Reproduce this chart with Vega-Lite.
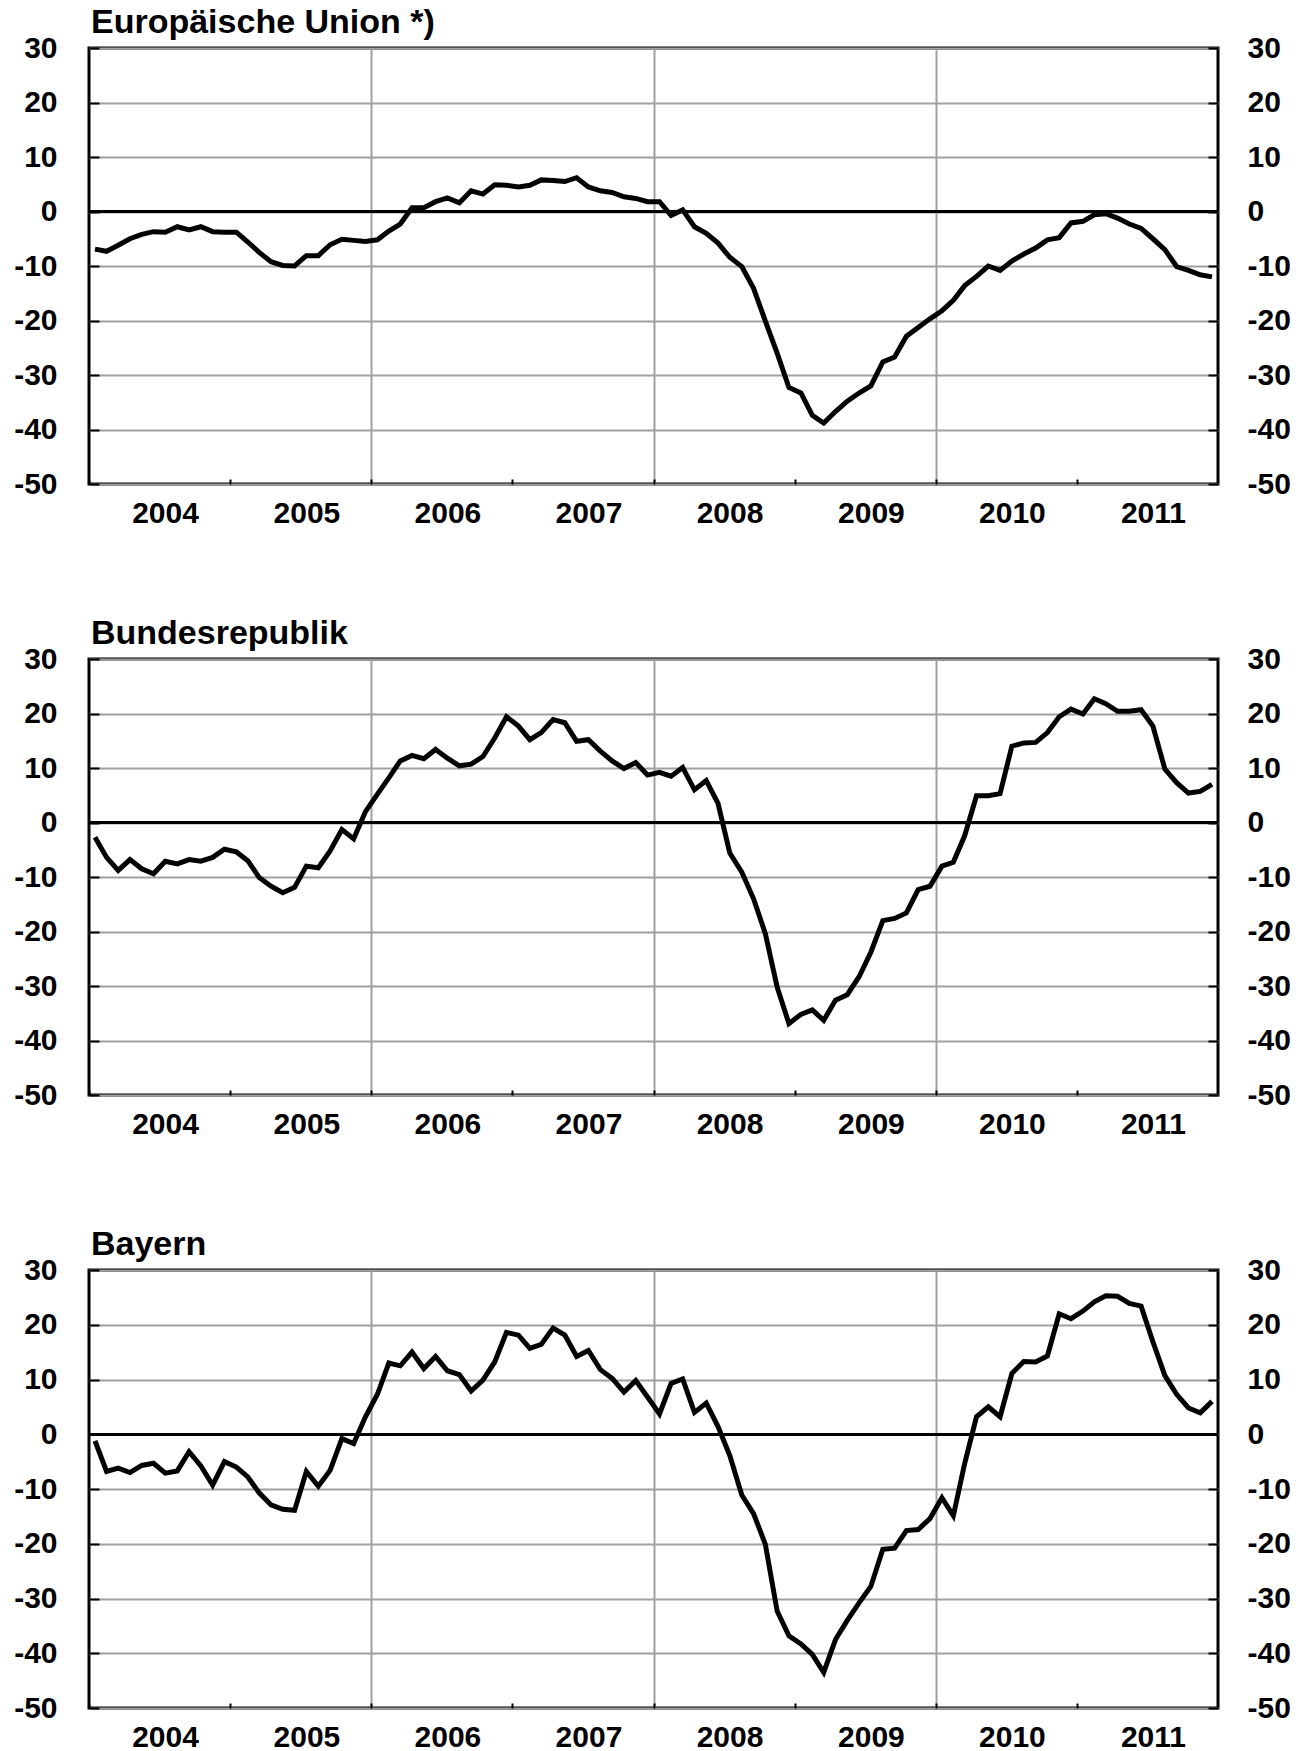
{
  "$schema": "https://vega.github.io/schema/vega-lite/v6.json",
  "background": "white",
  "padding": {"left": 12, "top": 4, "right": 5, "bottom": 0},
  "config": {
    "font": "Liberation Sans",
    "view": {"stroke": "black", "strokeWidth": 3},
    "axis": {"labelFont": "Liberation Sans", "labelFontSize": 30, "labelFontWeight": "bold", "labelColor": "black", "title": null, "domain": false},
    "title": {"font": "Liberation Sans"}
  },
  "datasets": {
    "ifo": [
      {"month": "2004-01", "eu": -6.9, "de": -2.7, "by": -1.2},
      {"month": "2004-02", "eu": -7.3, "de": -6.4, "by": -6.8},
      {"month": "2004-03", "eu": -6.2, "de": -8.8, "by": -6.2},
      {"month": "2004-04", "eu": -5.0, "de": -6.8, "by": -7.0},
      {"month": "2004-05", "eu": -4.2, "de": -8.5, "by": -5.7},
      {"month": "2004-06", "eu": -3.7, "de": -9.4, "by": -5.3},
      {"month": "2004-07", "eu": -3.8, "de": -7.1, "by": -7.1},
      {"month": "2004-08", "eu": -2.8, "de": -7.6, "by": -6.7},
      {"month": "2004-09", "eu": -3.4, "de": -6.8, "by": -3.2},
      {"month": "2004-10", "eu": -2.8, "de": -7.1, "by": -5.8},
      {"month": "2004-11", "eu": -3.7, "de": -6.4, "by": -9.3},
      {"month": "2004-12", "eu": -3.8, "de": -4.9, "by": -5.0},
      {"month": "2005-01", "eu": -3.8, "de": -5.4, "by": -6.0},
      {"month": "2005-02", "eu": -5.6, "de": -7.0, "by": -7.8},
      {"month": "2005-03", "eu": -7.5, "de": -10.1, "by": -10.7},
      {"month": "2005-04", "eu": -9.2, "de": -11.7, "by": -12.9},
      {"month": "2005-05", "eu": -9.9, "de": -12.9, "by": -13.7},
      {"month": "2005-06", "eu": -10.0, "de": -11.9, "by": -13.9},
      {"month": "2005-07", "eu": -8.1, "de": -8.0, "by": -6.8},
      {"month": "2005-08", "eu": -8.1, "de": -8.3, "by": -9.5},
      {"month": "2005-09", "eu": -6.1, "de": -5.2, "by": -6.6},
      {"month": "2005-10", "eu": -5.1, "de": -1.3, "by": -0.8},
      {"month": "2005-11", "eu": -5.3, "de": -3.0, "by": -1.7},
      {"month": "2005-12", "eu": -5.5, "de": 2.0, "by": 3.2},
      {"month": "2006-01", "eu": -5.2, "de": 5.2, "by": 7.3},
      {"month": "2006-02", "eu": -3.6, "de": 8.2, "by": 13.0},
      {"month": "2006-03", "eu": -2.3, "de": 11.3, "by": 12.5},
      {"month": "2006-04", "eu": 0.7, "de": 12.3, "by": 15.0},
      {"month": "2006-05", "eu": 0.7, "de": 11.7, "by": 12.0},
      {"month": "2006-06", "eu": 1.8, "de": 13.4, "by": 14.2},
      {"month": "2006-07", "eu": 2.5, "de": 11.8, "by": 11.6},
      {"month": "2006-08", "eu": 1.6, "de": 10.4, "by": 10.9},
      {"month": "2006-09", "eu": 3.8, "de": 10.7, "by": 7.9},
      {"month": "2006-10", "eu": 3.2, "de": 12.1, "by": 9.9},
      {"month": "2006-11", "eu": 4.9, "de": 15.5, "by": 13.2},
      {"month": "2006-12", "eu": 4.8, "de": 19.4, "by": 18.6},
      {"month": "2007-01", "eu": 4.5, "de": 17.7, "by": 18.1},
      {"month": "2007-02", "eu": 4.8, "de": 15.2, "by": 15.7},
      {"month": "2007-03", "eu": 5.8, "de": 16.5, "by": 16.4},
      {"month": "2007-04", "eu": 5.7, "de": 18.9, "by": 19.4},
      {"month": "2007-05", "eu": 5.5, "de": 18.3, "by": 18.1},
      {"month": "2007-06", "eu": 6.2, "de": 14.9, "by": 14.2},
      {"month": "2007-07", "eu": 4.5, "de": 15.2, "by": 15.3},
      {"month": "2007-08", "eu": 3.8, "de": 13.1, "by": 11.8},
      {"month": "2007-09", "eu": 3.5, "de": 11.3, "by": 10.2},
      {"month": "2007-10", "eu": 2.7, "de": 9.9, "by": 7.7},
      {"month": "2007-11", "eu": 2.4, "de": 11.0, "by": 9.8},
      {"month": "2007-12", "eu": 1.8, "de": 8.7, "by": 6.8},
      {"month": "2008-01", "eu": 1.8, "de": 9.2, "by": 3.7},
      {"month": "2008-02", "eu": -0.7, "de": 8.5, "by": 9.3},
      {"month": "2008-03", "eu": 0.3, "de": 10.1, "by": 10.1},
      {"month": "2008-04", "eu": -2.8, "de": 6.0, "by": 4.0},
      {"month": "2008-05", "eu": -4.0, "de": 7.7, "by": 5.7},
      {"month": "2008-06", "eu": -5.8, "de": 3.5, "by": 1.4},
      {"month": "2008-07", "eu": -8.4, "de": -5.6, "by": -3.9},
      {"month": "2008-08", "eu": -10.1, "de": -9.1, "by": -11.1},
      {"month": "2008-09", "eu": -14.1, "de": -14.0, "by": -14.5},
      {"month": "2008-10", "eu": -20.1, "de": -20.4, "by": -20.1},
      {"month": "2008-11", "eu": -26.0, "de": -30.2, "by": -32.3},
      {"month": "2008-12", "eu": -32.3, "de": -36.9, "by": -36.8},
      {"month": "2009-01", "eu": -33.3, "de": -35.2, "by": -38.3},
      {"month": "2009-02", "eu": -37.4, "de": -34.4, "by": -40.2},
      {"month": "2009-03", "eu": -38.8, "de": -36.3, "by": -43.5},
      {"month": "2009-04", "eu": -36.7, "de": -32.6, "by": -37.5},
      {"month": "2009-05", "eu": -34.8, "de": -31.6, "by": -34.0},
      {"month": "2009-06", "eu": -33.3, "de": -28.3, "by": -30.8},
      {"month": "2009-07", "eu": -32.0, "de": -23.8, "by": -27.8},
      {"month": "2009-08", "eu": -27.6, "de": -18.0, "by": -21.0},
      {"month": "2009-09", "eu": -26.7, "de": -17.6, "by": -20.8},
      {"month": "2009-10", "eu": -22.9, "de": -16.6, "by": -17.6},
      {"month": "2009-11", "eu": -21.3, "de": -12.3, "by": -17.4},
      {"month": "2009-12", "eu": -19.7, "de": -11.7, "by": -15.4},
      {"month": "2010-01", "eu": -18.2, "de": -8.0, "by": -11.6},
      {"month": "2010-02", "eu": -16.3, "de": -7.3, "by": -14.9},
      {"month": "2010-03", "eu": -13.6, "de": -2.4, "by": -5.3},
      {"month": "2010-04", "eu": -11.9, "de": 4.9, "by": 3.2},
      {"month": "2010-05", "eu": -10.0, "de": 4.9, "by": 5.0},
      {"month": "2010-06", "eu": -10.8, "de": 5.3, "by": 3.2},
      {"month": "2010-07", "eu": -9.1, "de": 14.0, "by": 11.1},
      {"month": "2010-08", "eu": -7.8, "de": 14.6, "by": 13.3},
      {"month": "2010-09", "eu": -6.7, "de": 14.7, "by": 13.2},
      {"month": "2010-10", "eu": -5.2, "de": 16.5, "by": 14.3},
      {"month": "2010-11", "eu": -4.8, "de": 19.4, "by": 22.0},
      {"month": "2010-12", "eu": -2.1, "de": 20.8, "by": 21.1},
      {"month": "2011-01", "eu": -1.8, "de": 19.9, "by": 22.5},
      {"month": "2011-02", "eu": -0.6, "de": 22.7, "by": 24.2},
      {"month": "2011-03", "eu": -0.4, "de": 21.8, "by": 25.3},
      {"month": "2011-04", "eu": -1.2, "de": 20.4, "by": 25.2},
      {"month": "2011-05", "eu": -2.3, "de": 20.4, "by": 23.9},
      {"month": "2011-06", "eu": -3.1, "de": 20.7, "by": 23.4},
      {"month": "2011-07", "eu": -5.0, "de": 17.7, "by": 16.9},
      {"month": "2011-08", "eu": -7.0, "de": 9.8, "by": 10.7},
      {"month": "2011-09", "eu": -10.1, "de": 7.3, "by": 7.3},
      {"month": "2011-10", "eu": -10.8, "de": 5.4, "by": 4.8},
      {"month": "2011-11", "eu": -11.6, "de": 5.7, "by": 3.9},
      {"month": "2011-12", "eu": -12.0, "de": 7.0, "by": 6.0}
    ]
  },
  "bounds": "flush",
  "spacing": 175,
  "vconcat": [
    {
      "title": {"text": "Europäische Union *)", "anchor": "start", "frame": "group", "dx": 2, "fontSize": 34, "fontWeight": "bold", "color": "black", "baseline": "alphabetic", "offset": -34},
      "width": 1129, "height": 436,
      "data": {"name": "ifo"},
      "layer": [
        {
          "mark": {"type": "line", "color": "black", "strokeWidth": 5},
          "encoding": {
            "x": {"field": "month", "type": "temporal", "timeUnit": "utcyearmonth", "bandPosition": 0.5,
              "scale": {"type": "utc", "domain": [{"year": 2004, "month": 1, "date": 1, "utc": true}, {"year": 2012, "month": 1, "date": 1, "utc": true}]},
              "axis": {"orient": "bottom", "values": [{"year": 2004, "month": 1, "date": 1, "utc": true}, {"year": 2005, "month": 1, "date": 1, "utc": true}, {"year": 2006, "month": 1, "date": 1, "utc": true}, {"year": 2007, "month": 1, "date": 1, "utc": true}, {"year": 2008, "month": 1, "date": 1, "utc": true}, {"year": 2009, "month": 1, "date": 1, "utc": true}, {"year": 2010, "month": 1, "date": 1, "utc": true}, {"year": 2011, "month": 1, "date": 1, "utc": true}],
                "format": "%Y", "labelOffset": 76, "labelPadding": 19, "labelAngle": 0, "labelOverlap": false, "labelFlush": false, "labelBound": false,
                "tickSize": -5, "tickWidth": 2, "tickColor": "black",
                "grid": true, "gridColor": "#a0a0a0", "gridWidth": 2,
                "gridOpacity": {"condition": {"test": "utcyear(datum.value) % 2 === 0 && utcyear(datum.value) > 2004", "value": 1}, "value": 0}}
            },
            "y": {"field": "eu", "type": "quantitative", "scale": {"domain": [-50, 30], "nice": false, "zero": false},
              "axis": {"orient": "left", "values": [-50, -40, -30, -20, -10, 0, 10, 20, 30], "labelExpr": "'' + datum.value", "labelPadding": 42, "tickSize": -10, "tickWidth": 2, "tickColor": "black", "grid": true, "gridColor": "#a0a0a0", "gridWidth": 2, "labelOverlap": false, "labelFlush": false}}
          }
        },
        {
          "mark": {"type": "rule", "color": "black", "strokeWidth": 2},
          "encoding": {
            "y": {"datum": 0, "type": "quantitative",
              "axis": {"orient": "right", "values": [-50, -40, -30, -20, -10, 0, 10, 20, 30], "labelExpr": "'' + datum.value", "labelPadding": 39, "tickSize": -10, "tickWidth": 2, "tickColor": "black", "grid": false, "labelOverlap": false, "labelFlush": false}}
          }
        }
      ],
      "resolve": {"axis": {"y": "independent"}}
    },
    {
      "title": {"text": "Bundesrepublik", "anchor": "start", "frame": "group", "dx": 2, "fontSize": 34, "fontWeight": "bold", "color": "black", "baseline": "alphabetic", "offset": -34},
      "width": 1129, "height": 436,
      "data": {"name": "ifo"},
      "layer": [
        {
          "mark": {"type": "line", "color": "black", "strokeWidth": 5},
          "encoding": {
            "x": {"field": "month", "type": "temporal", "timeUnit": "utcyearmonth", "bandPosition": 0.5,
              "scale": {"type": "utc", "domain": [{"year": 2004, "month": 1, "date": 1, "utc": true}, {"year": 2012, "month": 1, "date": 1, "utc": true}]},
              "axis": {"orient": "bottom", "values": [{"year": 2004, "month": 1, "date": 1, "utc": true}, {"year": 2005, "month": 1, "date": 1, "utc": true}, {"year": 2006, "month": 1, "date": 1, "utc": true}, {"year": 2007, "month": 1, "date": 1, "utc": true}, {"year": 2008, "month": 1, "date": 1, "utc": true}, {"year": 2009, "month": 1, "date": 1, "utc": true}, {"year": 2010, "month": 1, "date": 1, "utc": true}, {"year": 2011, "month": 1, "date": 1, "utc": true}],
                "format": "%Y", "labelOffset": 76, "labelPadding": 19, "labelAngle": 0, "labelOverlap": false, "labelFlush": false, "labelBound": false,
                "tickSize": -5, "tickWidth": 2, "tickColor": "black",
                "grid": true, "gridColor": "#a0a0a0", "gridWidth": 2,
                "gridOpacity": {"condition": {"test": "utcyear(datum.value) % 2 === 0 && utcyear(datum.value) > 2004", "value": 1}, "value": 0}}
            },
            "y": {"field": "de", "type": "quantitative", "scale": {"domain": [-50, 30], "nice": false, "zero": false},
              "axis": {"orient": "left", "values": [-50, -40, -30, -20, -10, 0, 10, 20, 30], "labelExpr": "'' + datum.value", "labelPadding": 42, "tickSize": -10, "tickWidth": 2, "tickColor": "black", "grid": true, "gridColor": "#a0a0a0", "gridWidth": 2, "labelOverlap": false, "labelFlush": false}}
          }
        },
        {
          "mark": {"type": "rule", "color": "black", "strokeWidth": 2},
          "encoding": {
            "y": {"datum": 0, "type": "quantitative",
              "axis": {"orient": "right", "values": [-50, -40, -30, -20, -10, 0, 10, 20, 30], "labelExpr": "'' + datum.value", "labelPadding": 39, "tickSize": -10, "tickWidth": 2, "tickColor": "black", "grid": false, "labelOverlap": false, "labelFlush": false}}
          }
        }
      ],
      "resolve": {"axis": {"y": "independent"}}
    },
    {
      "title": {"text": "Bayern", "anchor": "start", "frame": "group", "dx": 2, "fontSize": 34, "fontWeight": "bold", "color": "black", "baseline": "alphabetic", "offset": -34},
      "width": 1129, "height": 438,
      "data": {"name": "ifo"},
      "layer": [
        {
          "mark": {"type": "line", "color": "black", "strokeWidth": 5},
          "encoding": {
            "x": {"field": "month", "type": "temporal", "timeUnit": "utcyearmonth", "bandPosition": 0.5,
              "scale": {"type": "utc", "domain": [{"year": 2004, "month": 1, "date": 1, "utc": true}, {"year": 2012, "month": 1, "date": 1, "utc": true}]},
              "axis": {"orient": "bottom", "values": [{"year": 2004, "month": 1, "date": 1, "utc": true}, {"year": 2005, "month": 1, "date": 1, "utc": true}, {"year": 2006, "month": 1, "date": 1, "utc": true}, {"year": 2007, "month": 1, "date": 1, "utc": true}, {"year": 2008, "month": 1, "date": 1, "utc": true}, {"year": 2009, "month": 1, "date": 1, "utc": true}, {"year": 2010, "month": 1, "date": 1, "utc": true}, {"year": 2011, "month": 1, "date": 1, "utc": true}],
                "format": "%Y", "labelOffset": 76, "labelPadding": 19, "labelAngle": 0, "labelOverlap": false, "labelFlush": false, "labelBound": false,
                "tickSize": -5, "tickWidth": 2, "tickColor": "black",
                "grid": true, "gridColor": "#a0a0a0", "gridWidth": 2,
                "gridOpacity": {"condition": {"test": "utcyear(datum.value) % 2 === 0 && utcyear(datum.value) > 2004", "value": 1}, "value": 0}}
            },
            "y": {"field": "by", "type": "quantitative", "scale": {"domain": [-50, 30], "nice": false, "zero": false},
              "axis": {"orient": "left", "values": [-50, -40, -30, -20, -10, 0, 10, 20, 30], "labelExpr": "'' + datum.value", "labelPadding": 42, "tickSize": -10, "tickWidth": 2, "tickColor": "black", "grid": true, "gridColor": "#a0a0a0", "gridWidth": 2, "labelOverlap": false, "labelFlush": false}}
          }
        },
        {
          "mark": {"type": "rule", "color": "black", "strokeWidth": 2},
          "encoding": {
            "y": {"datum": 0, "type": "quantitative",
              "axis": {"orient": "right", "values": [-50, -40, -30, -20, -10, 0, 10, 20, 30], "labelExpr": "'' + datum.value", "labelPadding": 39, "tickSize": -10, "tickWidth": 2, "tickColor": "black", "grid": false, "labelOverlap": false, "labelFlush": false}}
          }
        }
      ],
      "resolve": {"axis": {"y": "independent"}}
    }
  ]
}
